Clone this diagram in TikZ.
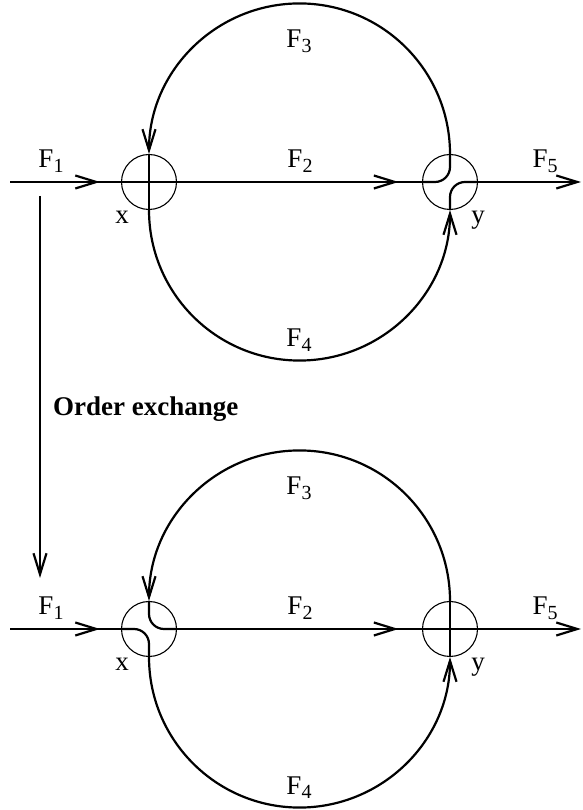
\documentclass[tikz,border=0pt]{standalone}
\usepackage{fontspec}
\setmainfont{Liberation Serif}
\usetikzlibrary{positioning,arrows.meta,decorations.markings}
\newcommand\fl[1]{F\raisebox{-5pt}{\fontsize{20}{20}\selectfont #1}}

\begin{document}
\begin{tikzpicture}[
    x=1pt,y=1pt,on grid,
    >={Straight Barb[length=21pt,width=13pt]},
    flow/.style={line width=2.2pt},
    turn/.style={flow,rounded corners=15pt},
    tipat/.style={postaction={decorate},decoration={markings,mark=at position #1 with {\arrow{>}}}},
    vertex/.style={draw,circle,line width=1.1pt,minimum size=55pt,inner sep=0pt},
    lbl/.style={font=\fontsize{27}{30}\selectfont,inner sep=0pt,anchor=base}
]
    \useasboundingbox (0,0) rectangle (582,810);
    %Top layer
    \node[vertex] (x1) at (149,628) {};
    \node[vertex,right=301pt of x1] (y1) {};
    \coordinate (in1) at (10,628);
    \coordinate (out1) at (581,628);
    \draw[flow,tipat=90pt] (in1) -- (x1.west);
    \draw[flow,tipat=221.5pt] (x1.east) -- (y1.west);
    \draw[flow,->] (y1.east) -- (out1);
    \draw[flow,->] (y1.north) arc[start angle=0,end angle=180,radius=150.5];
    \draw[flow,->] (x1.south) arc[start angle=180,end angle=360,radius=150.5];
    \draw[flow] (x1.west) -- (x1.east);  \draw[flow] (x1.north) -- (x1.south);
    \draw[turn] (y1.west) -- (y1.center) -- (y1.north);
    \draw[turn] (y1.south) -- (y1.center) -- (y1.east);
    \node[lbl] (f1a) at (51,642) {\fl{1}};
    \node[lbl] (f2a) at (300,642) {\fl{2}};
    \node[lbl] (f3a) at (299,762) {\fl{3}};
    \node[lbl] (f4a) at (299,463) {\fl{4}};
    \node[lbl] (f5a) at (545,642) {\fl{5}};
    \node[lbl] (xa) at (122,586) {x};
    \node[lbl] (ya) at (478,586) {y};
    %Exchange
    \coordinate (v0) at (40,614);
    \coordinate (v1) at (40,232);
    \draw[flow,->] (v0) -- (v1);
    \node[lbl,anchor=base west] (oe) at (53,394) {\bfseries Order exchange};
    %Bottom layer
    \node[vertex,below=447pt of x1] (x2) {};
    \node[vertex,right=301pt of x2] (y2) {};
    \coordinate (in2) at (10,181);
    \coordinate (out2) at (581,181);
    \draw[flow,tipat=90pt] (in2) -- (x2.west);
    \draw[flow,tipat=221.5pt] (x2.east) -- (y2.west);
    \draw[flow,->] (y2.east) -- (out2);
    \draw[flow,->] (y2.north) arc[start angle=0,end angle=180,radius=150.5];
    \draw[flow,->] (x2.south) arc[start angle=180,end angle=360,radius=150.5];
    \draw[turn] (x2.west) -- (x2.center) -- (x2.south);
    \draw[turn] (x2.north) -- (x2.center) -- (x2.east);
    \draw[flow] (y2.west) -- (y2.east);  \draw[flow] (y2.north) -- (y2.south);
    \node[lbl] (f1b) at (51,195) {\fl{1}};
    \node[lbl] (f2b) at (300,195) {\fl{2}};
    \node[lbl] (f3b) at (299,315) {\fl{3}};
    \node[lbl] (f4b) at (299,16) {\fl{4}};
    \node[lbl] (f5b) at (545,195) {\fl{5}};
    \node[lbl] (xb) at (122,139) {x};
    \node[lbl] (yb) at (478,139) {y};
\end{tikzpicture}
\end{document}
